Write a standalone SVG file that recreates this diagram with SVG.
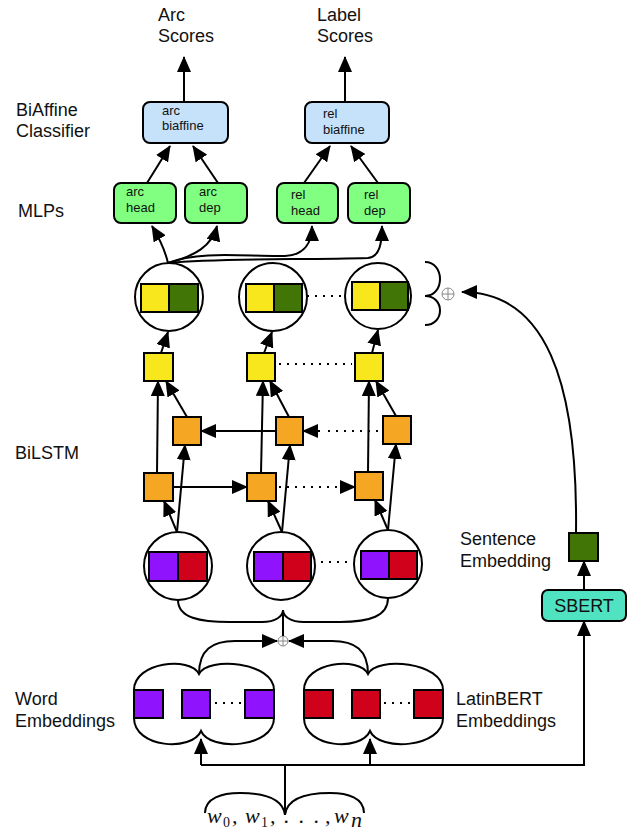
<svg xmlns="http://www.w3.org/2000/svg" width="634" height="832" viewBox="0 0 634 832">
<style>
text{font-family:"Liberation Sans",Arial,sans-serif;fill:#111}
.lbl{font-size:18px}
.bx{font-size:13px}
.ln{fill:none;stroke:#000;stroke-width:2}
.dot{fill:none;stroke:#000;stroke-width:2;stroke-dasharray:2 6}
.sq{stroke:#000;stroke-width:2}
.cir{fill:#fff;stroke:#000;stroke-width:2}
.yel{fill:#f8e71c}.grn{fill:#417505}.org{fill:#f5a623}.pur{fill:#9013fe}.red{fill:#d0021b}
.mlp{fill:#80ff80;stroke:#000;stroke-width:2}
.bia{fill:#c6e2fb;stroke:#000;stroke-width:2}
.sb{fill:#50e3c2;stroke:#000;stroke-width:2}
.op{fill:none;stroke:#888;stroke-width:1}
.m{font-family:"Liberation Serif","DejaVu Serif",serif;font-style:italic;font-size:22px}
.s{font-family:"Liberation Serif","DejaVu Serif",serif;font-size:14px}
</style>
<defs>
<marker id="ah" markerUnits="userSpaceOnUse" markerWidth="16" markerHeight="14" viewBox="0 0 16 14" refX="15" refY="7" orient="auto">
<path d="M0,0 L16,7 L0,14 z" fill="#000"/>
</marker>
</defs>

<g id="labels">
<text class="lbl" x="158" y="21">Arc</text>
<text class="lbl" x="158" y="42">Scores</text>
<text class="lbl" x="317" y="21">Label</text>
<text class="lbl" x="317" y="42">Scores</text>
<text class="lbl" x="16" y="116">BiAffine</text>
<text class="lbl" x="16" y="137">Classifier</text>
<text class="lbl" x="18" y="217">MLPs</text>
<text class="lbl" x="15" y="459">BiLSTM</text>
<text class="lbl" x="15" y="705">Word</text>
<text class="lbl" x="15" y="727">Embeddings</text>
<text class="lbl" x="456" y="705">LatinBERT</text>
<text class="lbl" x="456" y="727">Embeddings</text>
<text class="lbl" x="460" y="545">Sentence</text>
<text class="lbl" x="460" y="567">Embedding</text>
</g>

<g id="arc-biaffine"><rect class="bia" x="143" y="102" width="85" height="41" rx="7"/><text class="bx" x="162" y="115">arc</text><text class="bx" x="162" y="130">biaffine</text></g>
<g id="rel-biaffine"><rect class="bia" x="305" y="102" width="84" height="41" rx="7"/><text class="bx" x="323" y="118">rel</text><text class="bx" x="323" y="134">biaffine</text></g>
<g id="arc-head"><rect class="mlp" x="114" y="183" width="62" height="40" rx="7"/><text class="bx" x="126" y="196">arc</text><text class="bx" x="126" y="212">head</text></g>
<g id="arc-dep"><rect class="mlp" x="185" y="183" width="62" height="40" rx="7"/><text class="bx" x="199" y="196">arc</text><text class="bx" x="199" y="212">dep</text></g>
<g id="rel-head"><rect class="mlp" x="277" y="183" width="61" height="40" rx="7"/><text class="bx" x="291" y="199">rel</text><text class="bx" x="291" y="215">head</text></g>
<g id="rel-dep"><rect class="mlp" x="348" y="183" width="62" height="40" rx="7"/><text class="bx" x="364" y="199">rel</text><text class="bx" x="364" y="215">dep</text></g>

<g id="concat-1"><circle class="cir" cx="169" cy="297" r="34"/><rect class="sq yel" x="141" y="284" width="28" height="28"/><rect class="sq grn" x="169" y="284" width="29" height="28"/></g>
<g id="concat-2"><circle class="cir" cx="273" cy="297" r="34"/><rect class="sq yel" x="246" y="284" width="28" height="28"/><rect class="sq grn" x="274" y="284" width="28" height="28"/></g>
<g id="concat-3"><circle class="cir" cx="378" cy="296" r="33"/><rect class="sq yel" x="352" y="282" width="28" height="28"/><rect class="sq grn" x="380" y="282" width="28" height="28"/></g>

<g id="yellow-1"><rect class="sq yel" x="144" y="353" width="29" height="28"/></g>
<g id="yellow-2"><rect class="sq yel" x="247" y="353" width="28" height="28"/></g>
<g id="yellow-3"><rect class="sq yel" x="355" y="353" width="28" height="28"/></g>

<g id="bwd-1"><rect class="sq org" x="173" y="417" width="28" height="28"/></g>
<g id="bwd-2"><rect class="sq org" x="276" y="417" width="27" height="28"/></g>
<g id="bwd-3"><rect class="sq org" x="383" y="416" width="28" height="28"/></g>
<g id="fwd-1"><rect class="sq org" x="144" y="473" width="29" height="28"/></g>
<g id="fwd-2"><rect class="sq org" x="247" y="473" width="29" height="28"/></g>
<g id="fwd-3"><rect class="sq org" x="355" y="472" width="28" height="28"/></g>

<g id="input-1"><circle class="cir" cx="178" cy="566" r="34"/><rect class="sq pur" x="149" y="552" width="29" height="29"/><rect class="sq red" x="178" y="552" width="29" height="29"/></g>
<g id="input-2"><circle class="cir" cx="281" cy="566" r="34"/><rect class="sq pur" x="254" y="552" width="29" height="29"/><rect class="sq red" x="283" y="552" width="28" height="29"/></g>
<g id="input-3"><circle class="cir" cx="388" cy="564" r="34"/><rect class="sq pur" x="361" y="551" width="28" height="28"/><rect class="sq red" x="389" y="551" width="28" height="28"/></g>

<g id="word-embeddings">
<path class="ln" d="M134,718 L134,690 C134,662 190,656 199,674 C208,656 274,662 274,690 L274,718 C274,748 210,752 201,731 C192,752 134,748 134,718 Z" fill="#fff"/>
<rect class="sq pur" x="134" y="690" width="29" height="28"/>
<rect class="sq pur" x="182" y="690" width="28" height="28"/>
<rect class="sq pur" x="245" y="690" width="29" height="28"/>
<line class="dot" x1="215" y1="703" x2="243" y2="703"/>
</g>
<g id="latinbert-embeddings">
<path class="ln" d="M304,718 L304,690 C304,662 359,656 368,674 C377,656 443,662 443,690 L443,718 C443,748 379,752 370,731 C361,752 304,748 304,718 Z" fill="#fff"/>
<rect class="sq red" x="304" y="690" width="29" height="28"/>
<rect class="sq red" x="352" y="690" width="28" height="28"/>
<rect class="sq red" x="414" y="690" width="29" height="28"/>
<line class="dot" x1="384" y1="703" x2="412" y2="703"/>
</g>

<g id="sbert"><rect class="sb" x="542" y="590" width="84" height="31" rx="6"/><text x="584" y="612" font-size="18" text-anchor="middle">SBERT</text></g>
<g id="sentence-embedding"><rect class="sq grn" x="569" y="533" width="29" height="28"/></g>

<g id="words">
<path class="ln" d="M205,813 C205,798 222,793 240,793 C262,793 283,798 285,815 C287,798 308,793 330,793 C348,793 364,798 364,813"/>
<text class="m" x="207" y="823">w</text><text class="s" x="223" y="827">0</text><text class="m" x="232" y="823" font-style="normal">,</text>
<text class="m" x="245" y="823">w</text><text class="s" x="261" y="827">1</text><text class="m" x="270" y="823" font-style="normal">,</text>
<text class="m" x="284" y="823" font-style="normal">.</text><text class="m" x="299" y="823" font-style="normal">.</text><text class="m" x="314" y="823" font-style="normal">.</text><text class="m" x="325" y="823" font-style="normal">,</text>
<text class="m" x="334" y="823">w</text><text class="m" x="351" y="827" font-size="14">n</text>
</g>

<g id="operators">
<path class="ln" d="M425,262 C445,262 445,296 425,296 C445,296 445,325 425,325"/>
<circle class="op" cx="448" cy="294" r="6"/><path class="op" d="M442,294 H454 M448,288 V300"/>
<circle class="op" cx="283" cy="641" r="5"/><path class="op" d="M278,641 H288 M283,636 V646"/>
</g>

<g id="connectors">
<line class="ln" x1="184" y1="102" x2="184" y2="57" marker-end="url(#ah)"/>
<line class="ln" x1="345" y1="102" x2="345" y2="57" marker-end="url(#ah)"/>
<line class="ln" x1="147" y1="183" x2="170" y2="146" marker-end="url(#ah)"/>
<line class="ln" x1="218" y1="183" x2="193" y2="146" marker-end="url(#ah)"/>
<line class="ln" x1="304" y1="183" x2="330" y2="146" marker-end="url(#ah)"/>
<line class="ln" x1="378" y1="183" x2="351" y2="146" marker-end="url(#ah)"/>
<path class="ln" d="M168,263 Q164,246 152,226" marker-end="url(#ah)"/>
<path class="ln" d="M168,263 C195,256 212,246 217,226" marker-end="url(#ah)"/>
<path class="ln" d="M168,263 C200,250 250,257 285,256 C305,255 312,242 312,226" marker-end="url(#ah)"/>
<path class="ln" d="M168,263 C220,258 300,260 368,258 C380,257 382,242 382,226" marker-end="url(#ah)"/>
<line class="dot" x1="307" y1="296" x2="344" y2="296"/>
<path class="ln" d="M576,533 C578,380 545,292 462,292" marker-end="url(#ah)"/>
<line class="ln" x1="161" y1="353" x2="168" y2="332" marker-end="url(#ah)"/>
<line class="ln" x1="264" y1="353" x2="272" y2="332" marker-end="url(#ah)"/>
<line class="ln" x1="372" y1="353" x2="378" y2="330" marker-end="url(#ah)"/>
<line class="dot" x1="279" y1="364" x2="352" y2="364"/>
<line class="ln" x1="157" y1="473" x2="158" y2="381" marker-end="url(#ah)"/>
<line class="ln" x1="187" y1="417" x2="166" y2="381" marker-end="url(#ah)"/>
<line class="ln" x1="261" y1="473" x2="263" y2="381" marker-end="url(#ah)"/>
<line class="ln" x1="289" y1="417" x2="270" y2="381" marker-end="url(#ah)"/>
<line class="ln" x1="368" y1="472" x2="369" y2="381" marker-end="url(#ah)"/>
<line class="ln" x1="396" y1="416" x2="376" y2="381" marker-end="url(#ah)"/>
<line class="ln" x1="276" y1="431" x2="201" y2="431" marker-end="url(#ah)"/>
<line class="dot" x1="378" y1="431" x2="322" y2="431"/>
<line class="ln" x1="320" y1="431" x2="303" y2="431" marker-end="url(#ah)"/>
<line class="ln" x1="173" y1="487" x2="247" y2="487" marker-end="url(#ah)"/>
<line class="dot" x1="279" y1="487" x2="338" y2="487"/>
<line class="ln" x1="340" y1="487" x2="355" y2="487" marker-end="url(#ah)"/>
<line class="ln" x1="177" y1="532" x2="164" y2="501" marker-end="url(#ah)"/>
<line class="ln" x1="177" y1="532" x2="185" y2="445" marker-end="url(#ah)"/>
<line class="ln" x1="282" y1="532" x2="268" y2="501" marker-end="url(#ah)"/>
<line class="ln" x1="282" y1="532" x2="290" y2="445" marker-end="url(#ah)"/>
<line class="ln" x1="388" y1="530" x2="375" y2="500" marker-end="url(#ah)"/>
<line class="ln" x1="388" y1="530" x2="396" y2="444" marker-end="url(#ah)"/>
<line class="dot" x1="321" y1="562" x2="352" y2="562"/>
<path class="ln" d="M178,600 C178,618 200,622 230,622 L262,622 C276,622 283,616 283,610 C283,616 290,622 304,622 L340,622 C370,622 388,616 388,598"/>
<line class="ln" x1="283" y1="610" x2="283" y2="636"/>
<path class="ln" d="M199,674 C199,650 212,641 235,641 L277,641" marker-end="url(#ah)"/>
<path class="ln" d="M368,674 C368,650 355,641 332,641 L289,641" marker-end="url(#ah)"/>
<path class="ln" d="M201,765 H584 V621" marker-end="url(#ah)"/>
<line class="ln" x1="201" y1="765" x2="201" y2="739" marker-end="url(#ah)"/>
<line class="ln" x1="370" y1="765" x2="370" y2="739" marker-end="url(#ah)"/>
<line class="ln" x1="285" y1="765" x2="285" y2="815"/>
<line class="ln" x1="584" y1="590" x2="584" y2="561" marker-end="url(#ah)"/>
</g>
</svg>
